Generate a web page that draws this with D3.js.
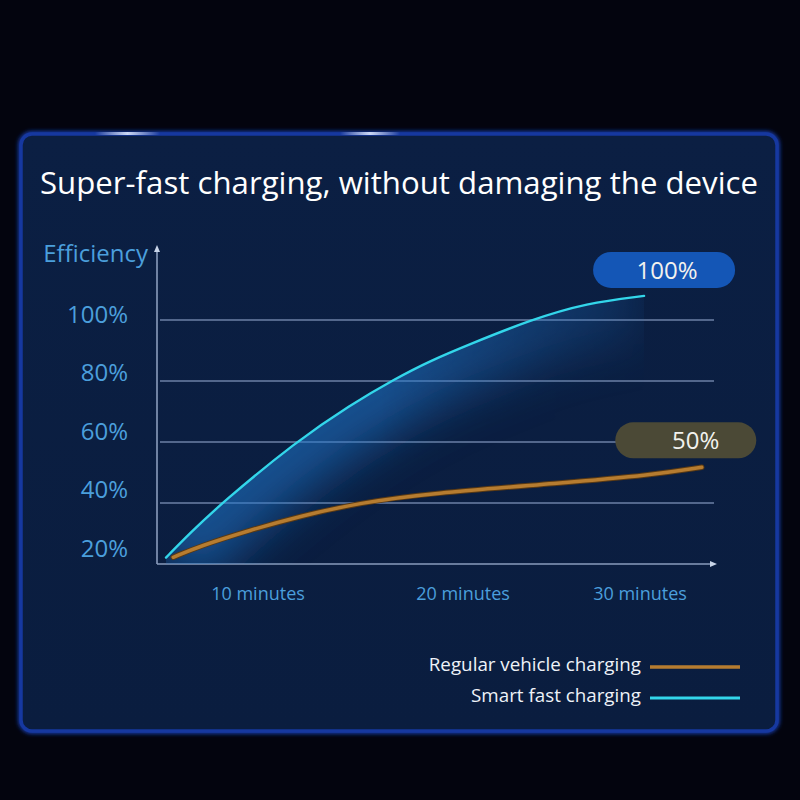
<!DOCTYPE html>
<html><head><meta charset="utf-8">
<script src="https://cdn.jsdelivr.net/npm/d3@7"></script>
<style>html,body{margin:0;padding:0;background:#03040e;} svg{display:block;}</style>
</head><body>
<svg id="c" width="800" height="800"></svg>
<script>
// ---------------- data ----------------
const title = "Super-fast charging, without damaging the device";
const yAxisTitle = "Efficiency";
const yTicks = [20, 40, 60, 80, 100];
const gridTicks = [40, 60, 80, 100];
const xTicks = [10, 20, 30];
const xTickLabels = ["10 minutes", "20 minutes", "30 minutes"];
const seriesNames = ["Regular vehicle charging", "Smart fast charging"];
const fastMinutes = [0, 2.61, 6.05, 11.89, 14.49, 16.68, 18.39, 20.40, 23.79, 26.99, 30.23];
const fastEff     = [22.1, 30.1, 40, 60.3, 72.1, 80.7, 86.6, 92.1, 100, 105.6, 107.9];
const regularMinutes = [0.79, 3.70, 9.13, 12.05, 14.98, 18.39, 25.48, 30.73, 33.49];
const regularEff     = [22.2, 25.9, 31.1, 35.7, 40.1, 43.2, 46.5, 49.2, 51.7];
const badgeLabels = ["100%", "50%"];

// ---------------- layout ----------------
const FONT = "'Open Sans', 'Noto Sans', sans-serif";
const svg = d3.select("#c");
const defs = svg.append("defs");

const x = d3.scaleLinear().domain([0, 10, 20, 30]).range([166, 258, 463, 640]);
const y = d3.scaleLinear().domain([20, 100]).range([564, 320]);
const yLab = d3.scaleLinear().domain([20, 100]).range([548, 314]);

// background
svg.append("rect").attr("width", 800).attr("height", 800).attr("fill", "#03040e");

// panel
const pg = defs.append("linearGradient").attr("id", "panelFill").attr("x1", 0).attr("y1", 0).attr("x2", 0).attr("y2", 1);
pg.append("stop").attr("offset", "0%").attr("stop-color", "#0b1f43");
pg.append("stop").attr("offset", "100%").attr("stop-color", "#0a1d3f");
const pglow = defs.append("filter").attr("id", "pglow").attr("x", "-5%").attr("y", "-5%").attr("width", "110%").attr("height", "110%");
pglow.append("feGaussianBlur").attr("stdDeviation", 2);
svg.append("rect").attr("x", 21).attr("y", 134).attr("width", 756).attr("height", 597)
  .attr("rx", 11).attr("fill", "none")
  .attr("stroke", "#1a44c0").attr("stroke-width", 5).attr("filter", "url(#pglow)");
svg.append("rect").attr("x", 21).attr("y", 134).attr("width", 756).attr("height", 597)
  .attr("rx", 11).attr("fill", "url(#panelFill)")
  .attr("stroke", "#1638a0").attr("stroke-width", 3.5);

// top border highlights
const hl = defs.append("linearGradient").attr("id", "hl").attr("x1", 0).attr("x2", 1);
hl.append("stop").attr("offset", "0%").attr("stop-color", "#ffffff").attr("stop-opacity", 0);
hl.append("stop").attr("offset", "50%").attr("stop-color", "#dfe9ff").attr("stop-opacity", 0.9);
hl.append("stop").attr("offset", "100%").attr("stop-color", "#ffffff").attr("stop-opacity", 0);
[[95, 160], [340, 400]].forEach(([a, b]) => {
  svg.append("rect").attr("x", a).attr("y", 132).attr("width", b - a).attr("height", 3)
    .attr("fill", "url(#hl)");
});

// title
svg.append("text").attr("x", 399).attr("y", 194).attr("text-anchor", "middle")
  .attr("font-family", FONT).attr("font-size", 31).attr("fill", "#ffffff")
  .attr("textLength", 718).attr("lengthAdjust", "spacingAndGlyphs").text(title);

// grid lines
svg.append("g").selectAll("line").data(gridTicks).join("line")
  .attr("x1", 160).attr("x2", 714).attr("y1", d => y(d)).attr("y2", d => y(d))
  .attr("stroke", "#6c80a6").attr("stroke-width", 1.6);

// axes
const axisColor = "#8a9cbc";
svg.append("line").attr("x1", 157).attr("x2", 157).attr("y1", y(20)).attr("y2", 250)
  .attr("stroke", axisColor).attr("stroke-width", 1.6);
svg.append("path").attr("d", "M157,245 L154,252 L160,252 Z").attr("fill", "#c8d4e8");
svg.append("line").attr("x1", 157).attr("x2", 712).attr("y1", y(20)).attr("y2", y(20))
  .attr("stroke", axisColor).attr("stroke-width", 1.6);
svg.append("path").attr("d", `M717,${y(20)} L710,${y(20) - 3} L710,${y(20) + 3} Z`).attr("fill", "#c8d4e8");

// y labels
const labColor = "#4b9fdc";
svg.append("text").attr("x", 148).attr("y", 262).attr("text-anchor", "end")
  .attr("font-family", FONT).attr("font-size", 24).attr("fill", labColor).text(yAxisTitle);
svg.append("g").selectAll("text").data(yTicks).join("text")
  .attr("x", 128).attr("y", d => yLab(d)).attr("dy", "0.36em").attr("text-anchor", "end")
  .attr("font-family", FONT).attr("font-size", 24).attr("fill", labColor)
  .text(d => d + "%");

// x labels
svg.append("g").selectAll("text").data(xTicks).join("text")
  .attr("x", d => x(d)).attr("y", 594).attr("dy", "0.36em").attr("text-anchor", "middle")
  .attr("font-family", FONT).attr("font-size", 18).attr("fill", labColor)
  .text((d, i) => xTickLabels[i]);

// series
const fast = fastMinutes.map((m, i) => ({ m, v: fastEff[i] }));
const regular = regularMinutes.map((m, i) => ({ m, v: regularEff[i] }));
const line = d3.line().x(d => x(d.m)).y(d => y(d.v)).curve(d3.curveBasis);
const area = d3.area().x(d => x(d.m)).y0(y(20)).y1(d => y(d.v)).curve(d3.curveBasis);

// glow under fast curve
defs.append("clipPath").attr("id", "underFast").append("path").attr("d", area(fast));
const blur = defs.append("filter").attr("id", "blur").attr("x", "-30%").attr("y", "-30%").attr("width", "160%").attr("height", "160%");
blur.append("feGaussianBlur").attr("stdDeviation", 24);
const fadeGrad = defs.append("linearGradient").attr("id", "fade").attr("gradientUnits", "userSpaceOnUse")
  .attr("x1", 380).attr("x2", 660).attr("y1", 0).attr("y2", 0);
fadeGrad.append("stop").attr("offset", "0%").attr("stop-color", "#fff");
fadeGrad.append("stop").attr("offset", "100%").attr("stop-color", "#333");
defs.append("mask").attr("id", "fadeMask").attr("maskUnits", "userSpaceOnUse")
  .attr("x", 0).attr("y", 0).attr("width", 800).attr("height", 800)
  .append("rect").attr("width", 800).attr("height", 800).attr("fill", "url(#fade)");
const glowG = svg.append("g").attr("clip-path", "url(#underFast)").attr("mask", "url(#fadeMask)");
glowG.append("path").attr("d", line(fast)).attr("fill", "none")
  .attr("stroke", "#1b7ad0").attr("stroke-width", 90).attr("stroke-opacity", 0.55)
  .attr("filter", "url(#blur)");

svg.append("path").attr("d", line(regular)).attr("fill", "none")
  .attr("stroke", "#5a3a14").attr("stroke-width", 5.5).attr("stroke-linecap", "round");
svg.append("path").attr("d", line(regular)).attr("fill", "none")
  .attr("stroke", "#b67c30").attr("stroke-width", 3.5).attr("stroke-linecap", "round");
svg.append("path").attr("d", line(fast)).attr("fill", "none")
  .attr("stroke", "#33d6ea").attr("stroke-width", 2.4).attr("stroke-linecap", "round");

// badges
const badges = [
  { label: badgeLabels[0], cx: x(fastMinutes[fastMinutes.length - 1]) + 20, cy: y(fastEff[fastEff.length - 1]) - 26, w: 142, fill: "#1456b6", tdx: 3 },
  { label: badgeLabels[1], cx: x(regularMinutes[regularMinutes.length - 1]) - 16, cy: y(regularEff[regularEff.length - 1]) - 27, w: 141, fill: "#4b4936", tdx: 10 }
];
const bg = svg.append("g").selectAll("g").data(badges).join("g");
bg.append("rect").attr("x", d => d.cx - d.w / 2).attr("y", d => d.cy - 18)
  .attr("width", d => d.w).attr("height", 36).attr("rx", 18).attr("fill", d => d.fill);
bg.append("text").attr("x", d => d.cx + d.tdx).attr("y", d => d.cy).attr("dy", "0.36em")
  .attr("text-anchor", "middle").attr("font-family", FONT).attr("font-size", 24)
  .attr("fill", "#f2f2ee").text(d => d.label);

// legend
const legend = [
  { name: seriesNames[0], color: "#b67c30", w: 3.5, y: 667 },
  { name: seriesNames[1], color: "#33d6ea", w: 3, y: 698 }
];
const lg = svg.append("g").selectAll("g").data(legend).join("g");
lg.append("text").attr("x", 641).attr("y", d => d.y - 3).attr("dy", "0.36em").attr("text-anchor", "end")
  .attr("font-family", FONT).attr("font-size", 18.8).attr("fill", "#eef2f8").text(d => d.name);
lg.append("line").attr("x1", 650).attr("x2", 740).attr("y1", d => d.y).attr("y2", d => d.y)
  .attr("stroke", d => d.color).attr("stroke-width", d => d.w);
</script>
</body></html>
